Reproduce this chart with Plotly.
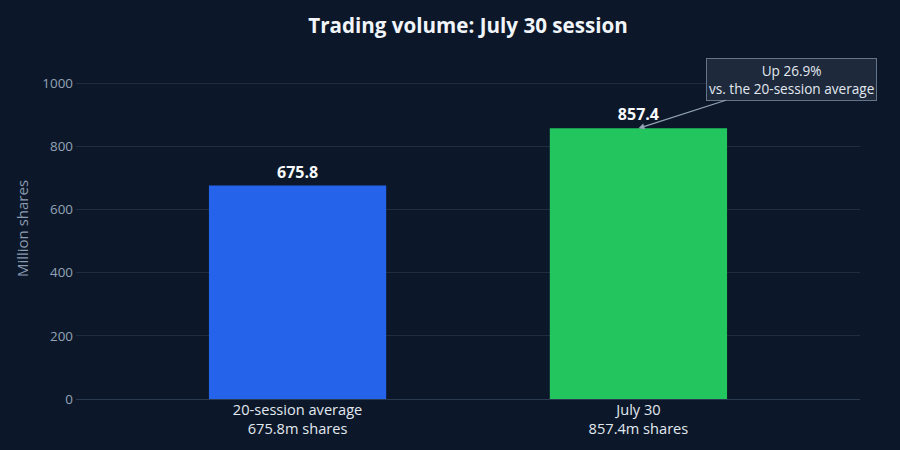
import plotly.graph_objects as go

categories = ["20-session average<br>675.8m shares", "July 30<br>857.4m shares"]
values = [675.8, 857.4]
value_labels = ["675.8", "857.4"]
colors = ["#2563eb", "#22c55e"]
y_ticks = [0, 200, 400, 600, 800, 1000]

FONT = "Open Sans"

fig = go.Figure()
fig.add_trace(go.Bar(
    x=[0, 1], y=values, width=0.52,
    marker=dict(color=colors, line=dict(width=0)),
    text=value_labels, textposition="outside",
    textfont=dict(family=FONT, size=16, color="#f8fafc", weight="bold"),
    cliponaxis=False,
    hoverinfo="skip",
))

fig.add_annotation(
    x=1, y=values[1], xref="x", yref="y",
    text="Up 26.9%<br>vs. the 20-session average",
    showarrow=True, arrowhead=2, arrowsize=1, arrowwidth=1.2, arrowcolor="#94a3b8",
    ax=153, ay=-49,
    font=dict(family=FONT, size=13.6, color="#e2e8f0"),
    bgcolor="#1e293b", bordercolor="#64748b", borderwidth=1, borderpad=2,
)

fig.update_layout(
    width=900, height=450,
    paper_bgcolor="#0c1829", plot_bgcolor="#0c1829",
    margin=dict(l=76, r=40, t=58, b=51),
    title=dict(text="<b>Trading volume: July 30 session</b>", x=0.5, xanchor="center",
               xref="paper", y=0.943, yanchor="middle",
               font=dict(family=FONT, size=20.6, color="#f1f5f9")),
    font=dict(family=FONT),
    showlegend=False,
)
fig.update_xaxes(
    range=[-0.65, 1.65], tickmode="array", tickvals=[0, 1], ticktext=categories,
    tickfont=dict(size=14.6, color="#e2e8f0"), showgrid=False, zeroline=False,
    showline=False, ticks="",
)
fig.update_yaxes(
    range=[0, 1080], tickmode="array", tickvals=y_ticks,
    tickfont=dict(size=13.4, color="#94a3b8"), gridcolor="#1f2d40", gridwidth=1,
    zeroline=True, zerolinecolor="#2a3a50", zerolinewidth=1,
    title=dict(text="Million shares", font=dict(size=15, color="#8b9bb0"), standoff=10),
    ticks="", ticklabelstandoff=2,
)

fig.write_html("out.html")
